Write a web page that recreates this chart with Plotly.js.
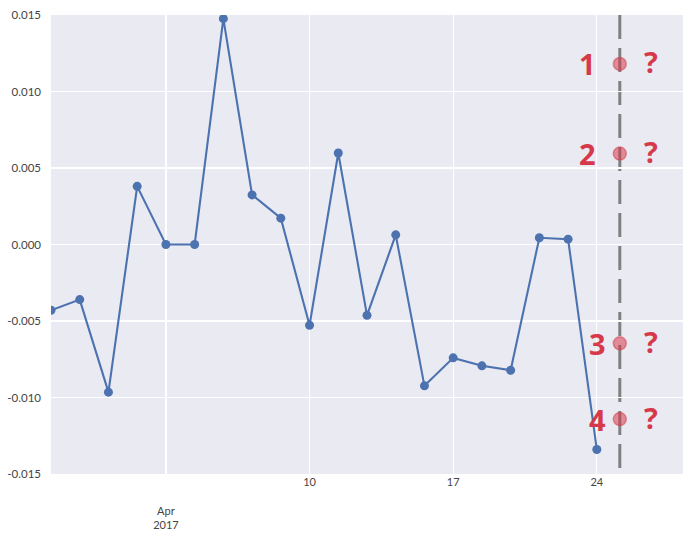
<!DOCTYPE html>
<html>
<head>
<meta charset="utf-8">
<script src="https://cdn.plot.ly/plotly-3.0.1.min.js"></script>
<style>html,body{margin:0;padding:0;background:#fff;}#chart{width:693px;height:539px;}</style>
</head>
<body>
<div id="chart"></div>
<script>
// Data
const dates = ['2017-03-28','2017-03-29','2017-03-30','2017-03-31','2017-04-03','2017-04-04','2017-04-05','2017-04-06','2017-04-07','2017-04-10','2017-04-11','2017-04-12','2017-04-13','2017-04-14','2017-04-17','2017-04-18','2017-04-19','2017-04-20','2017-04-21','2017-04-24'];
const values = [-0.0043,-0.0036,-0.00965,0.0038,0.0,0.0,0.01476,0.00324,0.00172,-0.00528,0.00598,-0.00463,0.00063,-0.00924,-0.00741,-0.00793,-0.00822,0.00044,0.00035,-0.0134];
const forecastDate = '2017-04-24 19:12';
const forecastValues = [0.0118, 0.00594, -0.00646, -0.01141];
const forecastLabels = ['1','2','3','4'];
const xTickVals = ['2017-04-03','2017-04-10','2017-04-17','2017-04-24'];
const xTickText = ['<br><br>Apr<br>2017','10','17','24'];
const yTickVals = [-0.015,-0.010,-0.005,0.000,0.005,0.010,0.015];
const yTickText = ['-0.015','-0.010','-0.005','0.000','0.005','0.010','0.015'];

const red = '#d63a4a';
const traces = [
  {
    x: dates, y: values, type: 'scatter', mode: 'lines+markers',
    line: {color: '#4C72B0', width: 2.1},
    marker: {color: '#4C72B0', size: 9},
    hoverinfo: 'skip', showlegend: false
  },
  {
    x: forecastValues.map(() => forecastDate), y: forecastValues,
    type: 'scatter', mode: 'markers',
    marker: {color: 'rgba(214,58,74,0.55)', size: 13, line: {color: 'rgba(214,58,74,0.5)', width: 1.5}},
    showlegend: false, hoverinfo: 'skip'
  }
];

const labelXShift = [-32, -32, -22, -22];
const annotations = [];
forecastValues.forEach((v, i) => {
  annotations.push({x: forecastDate, y: v, xref: 'x', yref: 'y', text: forecastLabels[i], showarrow: false,
    xshift: labelXShift[i], yshift: 0, font: {family: 'Open Sans, Lato, sans-serif', size: 29, color: red, weight: 'bold'}});
  annotations.push({x: forecastDate, y: v, xref: 'x', yref: 'y', text: '?', showarrow: false,
    xshift: 31, yshift: 2, font: {family: 'Open Sans, Lato, sans-serif', size: 29, color: red, weight: 'bold'}});
});

const layout = {
  width: 693, height: 539,
  margin: {l: 51, r: 10, t: 15, b: 65},
  paper_bgcolor: '#ffffff', plot_bgcolor: '#EAEAF2',
  font: {family: 'Lato, "DejaVu Sans", sans-serif', size: 11, color: '#444'},
  xaxis: {
    type: 'date',
    range: ['2017-03-28', '2017-04-27'],
    rangebreaks: [{bounds: ['sat', 'mon']}],
    tickmode: 'array', tickvals: xTickVals, ticktext: xTickText,
    showgrid: true, gridcolor: '#ffffff', gridwidth: 1.3,
    zeroline: false, showline: false, ticks: '', automargin: false,
    tickfont: {size: 11, color: '#444'}
  },
  yaxis: {
    range: [-0.015, 0.015],
    tickmode: 'array', tickvals: yTickVals, ticktext: yTickText,
    showgrid: true, gridcolor: '#ffffff', gridwidth: 1.3,
    zeroline: false, showline: false, ticks: '', automargin: false,
    ticklabelstandoff: 9,
    tickfont: {size: 11.5, color: '#444'}
  },
  shapes: [{
    type: 'line', xref: 'x', yref: 'paper', x0: forecastDate, x1: forecastDate, y0: 1, y1: 0,
    layer: 'below',
    line: {color: '#808080', width: 3, dash: '24px,9px'}
  }],
  annotations: annotations
};

Plotly.newPlot('chart', traces, layout, {displayModeBar: false, staticPlot: true});
</script>
</body>
</html>
